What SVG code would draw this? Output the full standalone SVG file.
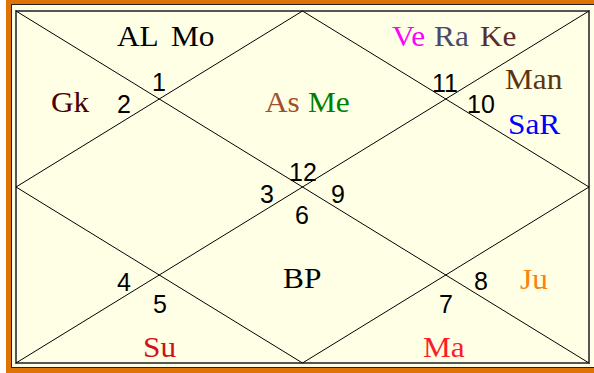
<svg xmlns="http://www.w3.org/2000/svg" width="594" height="373" viewBox="0 0 594 373">
<style>
.num{font-family:"Liberation Sans",Arial,sans-serif;font-size:25px;fill:#000;text-anchor:middle}
.pl{font-family:"Liberation Serif","Times New Roman",serif;font-size:29px}
.ln{stroke:#000;stroke-width:1;fill:none}
</style>
<rect x="0" y="0" width="594" height="373" fill="#ffffff"/>
<rect x="6" y="-4" width="600" height="377" fill="#E07306"/>
<rect x="11.5" y="4.5" width="590" height="363" fill="#FFFFE6" stroke="#222" stroke-width="1"/>
<rect id="frame" x="16" y="11" width="573" height="352" fill="#FFFFE6" stroke="#555" stroke-width="2"/>
<g id="connectors" class="ln">
<line x1="16" y1="11" x2="589" y2="363"/>
<line x1="589" y1="11" x2="16" y2="363"/>
<polygon points="302.5,11 589,187 302.5,363 16,187"/>
</g>
<g id="h1"><text class="num" x="159" y="91">1</text><text class="pl" transform="matrix(1.08 0 0 1 117 46)" fill="#000">AL</text><text class="pl" transform="matrix(1.08 0 0 1 171 46)" fill="#000">Mo</text></g>
<g id="h2"><text class="num" x="124" y="113">2</text><text class="pl" transform="matrix(1.08 0 0 1 51 112)" fill="#4A0000">Gk</text></g>
<g id="h3"><text class="num" x="267" y="203">3</text></g>
<g id="h4"><text class="num" x="124" y="291">4</text></g>
<g id="h5"><text class="num" x="160" y="313">5</text><text class="pl" transform="matrix(1.08 0 0 1 143 357)" fill="#D0101A">Su</text></g>
<g id="h6"><text class="num" x="302" y="224">6</text><text class="pl" transform="matrix(1.08 0 0 1 283 288)" fill="#000">BP</text></g>
<g id="h7"><text class="num" x="446" y="313">7</text><text class="pl" transform="matrix(1.08 0 0 1 423 357)" fill="#FF1A2A">Ma</text></g>
<g id="h8"><text class="num" x="481" y="290">8</text><text class="pl" transform="matrix(1.08 0 0 1 520 289)" fill="#FF7F10">Ju</text></g>
<g id="h9"><text class="num" x="338" y="203">9</text></g>
<g id="h10"><text class="num" x="481" y="113">10</text><text class="pl" transform="matrix(1.08 0 0 1 505 89)" fill="#5A3510">Man</text><text class="pl" transform="matrix(1.08 0 0 1 508 134)" fill="#0000FF">SaR</text></g>
<g id="h11"><text class="num" x="445" y="92">11</text><text class="pl" transform="matrix(1.08 0 0 1 392 46)" fill="#FF00FF">Ve</text><text class="pl" transform="matrix(1.08 0 0 1 434 46)" fill="#4B4A6A">Ra</text><text class="pl" transform="matrix(1.08 0 0 1 480 46)" fill="#5C2B2B">Ke</text></g>
<g id="h12"><text class="num" x="303" y="181">12</text><text class="pl" transform="matrix(1.08 0 0 1 265 112)" fill="#A0522D">As</text><text class="pl" transform="matrix(1.08 0 0 1 308 112)" fill="#008000">Me</text></g>
</svg>
